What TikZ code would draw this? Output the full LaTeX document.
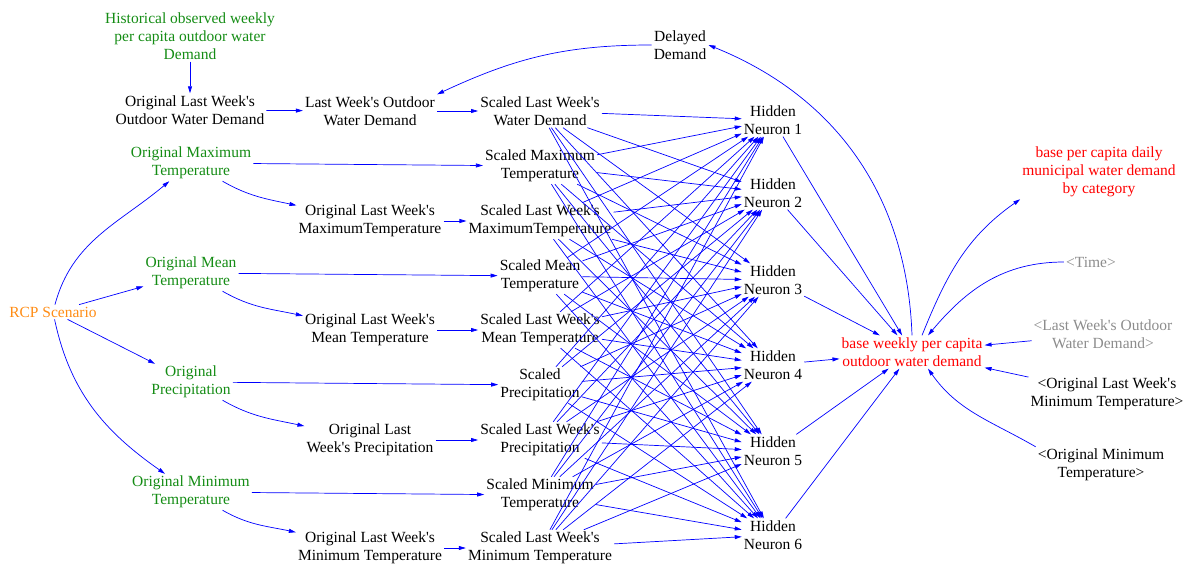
\documentclass[tikz,border=0pt]{standalone}
\usepackage{fontspec}
\setmainfont{Liberation Serif}[Ligatures=TeXOff]
\usetikzlibrary{arrows.meta}
\definecolor{vgreen}{RGB}{20,140,20}
\definecolor{vorange}{RGB}{255,140,20}
\definecolor{vgray}{RGB}{140,140,140}
\definecolor{vred}{RGB}{255,0,0}
\definecolor{vblue}{RGB}{0,0,255}
\begin{document}
\begin{tikzpicture}[x=1pt,y=1pt,
  v/.style={align=center, inner sep=2pt, font=\fontsize{15.5}{18}\selectfont},
  lk/.style={draw=vblue, line width=0.7pt, -{Triangle[length=7pt,width=4pt]}}]
\useasboundingbox (0,0) rectangle (1190,-569);
% left column
\node[v,text=vgreen] (hist) at (190,-36) {Historical observed weekly\\per capita outdoor water\\Demand};
\node[v] (olwd) at (190,-110) {Original Last Week's\\Outdoor Water Demand};
\node[v] (lwd) at (370,-111) {Last Week's Outdoor\\Water Demand};
\node[v] (slwd) at (540,-111) {Scaled Last Week's\\Water Demand};
\node[v] (del) at (680,-45) {Delayed\\Demand};
\node[v,text=vorange] (rcp) at (53,-312) {RCP Scenario};
\node[v,text=vgreen] (omax) at (191,-163) {Original Maximum\\Temperature};
\node[v,text=vgreen] (omean) at (191,-273) {Original Mean\\Temperature};
\node[v,text=vgreen] (oprec) at (191,-382) {Original\\Precipitation};
\node[v,text=vgreen] (omin) at (191,-492) {Original Minimum\\Temperature};
\node[v] (olwmax) at (370,-221) {Original Last Week's\\MaximumTemperature};
\node[v] (olwmean) at (370,-330) {Original Last Week's\\Mean Temperature};
\node[v] (olwprec) at (370,-440) {Original Last\\Week's Precipitation};
\node[v] (olwmin) at (370,-548) {Original Last Week's\\Minimum Temperature};
\node[v] (smax) at (540,-166) {Scaled Maximum\\Temperature};
\node[v] (slwmax) at (540,-221) {Scaled Last Week's\\MaximumTemperature};
\node[v] (smean) at (540,-276) {Scaled Mean\\Temperature};
\node[v] (slwmean) at (540,-330) {Scaled Last Week's\\Mean Temperature};
\node[v] (sprec) at (540,-385) {Scaled\\Precipitation};
\node[v] (slwprec) at (540,-440) {Scaled Last Week's\\Precipitation};
\node[v] (smin) at (540,-495) {Scaled Minimum\\Temperature};
\node[v] (slwmin) at (540,-548) {Scaled Last Week's\\Minimum Temperature};
% hidden neurons
\node[v] (h1) at (773,-120) {Hidden\\Neuron 1};
\node[v] (h2) at (773,-193) {Hidden\\Neuron 2};
\node[v] (h3) at (773,-280) {Hidden\\Neuron 3};
\node[v] (h4) at (773,-365) {Hidden\\Neuron 4};
\node[v] (h5) at (773,-451) {Hidden\\Neuron 5};
\node[v] (h6) at (773,-535) {Hidden\\Neuron 6};
% right side
\node[v,text=vred] (bw) at (912,-352) {base weekly per capita\\outdoor water demand};
\node[v,text=vred] (daily) at (1099,-172) {base per capita daily\\municipal water demand\\by category};
\node[v,text=vgray] (time) at (1091,-262) {<Time>};
\node[v,text=vgray] (slw) at (1103,-334) {<Last Week's Outdoor\\Water Demand>};
\node[v] (solwmin) at (1107,-394) {<Original Last Week's\\Minimum Temperature>};
\node[v] (somin) at (1101,-465) {<Original Minimum\\Temperature>};
% links
\draw[lk] (hist) -- (olwd);
\draw[lk] (olwd) -- (lwd);
\draw[lk] (lwd) -- (slwd);
\draw[lk] (del.west) to[out=180,in=25] (lwd.north east);
\draw[lk] (rcp) to[out=75,in=220] (omax);
\draw[lk] (rcp) -- (omean);
\draw[lk] (rcp) -- (oprec);
\draw[lk] (rcp) to[out=-78,in=145] (omin);
\foreach \a/\b/\c in {omax/smax/olwmax, omean/smean/olwmean, oprec/sprec/olwprec, omin/smin/olwmin}{
  \draw[lk] (\a) -- (\b);
  \draw[lk] (\a) to[out=-30,in=168] (\c);
}
\draw[lk] (olwmax) -- (slwmax);
\draw[lk] (olwmean) -- (slwmean);
\draw[lk] (olwprec) -- (slwprec);
\draw[lk] (olwmin) -- (slwmin);
\foreach \s in {slwd,smax,slwmax,smean,slwmean,sprec,slwprec,smin,slwmin}{
  \foreach \h in {h1,h2,h3,h4,h5,h6}{
    \draw[lk] (\s) -- (\h);
  }
}
\foreach \h in {h1,h2,h3,h4,h5,h6}{
  \draw[lk] (\h) -- (bw);
}
\draw[lk] (bw.north) to[out=92,in=-22] (del.east);
\draw[lk] ([xshift=10pt]bw.north) to[out=68,in=215] (daily.south west);
\draw[lk] (time.west) to[out=180,in=50] ([xshift=16pt]bw.north);
\draw[lk] (slw) -- (bw);
\draw[lk] (solwmin) -- (bw);
\draw[lk] (somin.north west) to[out=150,in=-55] ([xshift=16pt]bw.south);
\end{tikzpicture}
\end{document}
